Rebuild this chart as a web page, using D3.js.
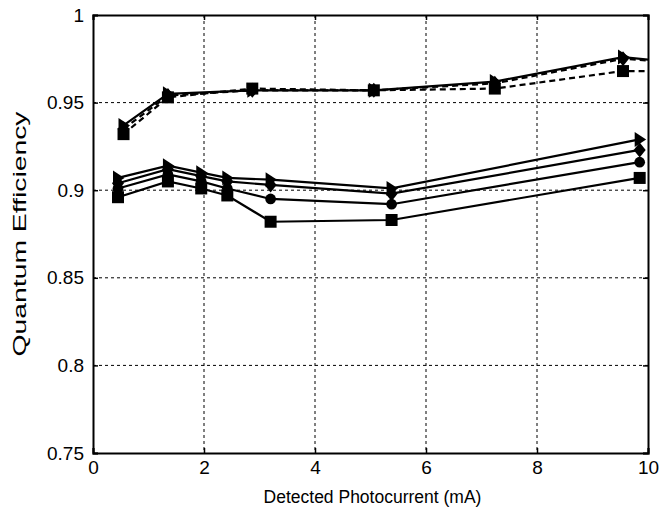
<!DOCTYPE html>
<html><head><meta charset="utf-8">
<script src="https://cdn.jsdelivr.net/npm/d3@7"></script>
<style>body{margin:0;background:#fff}svg{display:block}text{font-family:"Liberation Sans",Arial,sans-serif}</style>
</head><body>
<svg id="c" width="663" height="516"></svg>
<script>
const upperX = [0.55, 1.35, 2.87, 5.06, 7.24, 9.55, 10.5];
const upperTri = [0.937, 0.955, 0.957, 0.957, 0.962, 0.976, 0.973];
const upperDia = [0.935, 0.954, 0.957, 0.957, 0.961, 0.975, 0.973];
const upperSq  = [0.932, 0.953, 0.958, 0.957, 0.958, 0.968, 0.968];
const lowerX = [0.45, 1.35, 1.95, 2.42, 3.2, 5.38, 9.85];
const lowerTri = [0.907, 0.914, 0.910, 0.907, 0.906, 0.901, 0.929];
const lowerDia = [0.904, 0.912, 0.908, 0.905, 0.903, 0.898, 0.923];
const lowerCir = [0.901, 0.909, 0.905, 0.901, 0.895, 0.892, 0.916];
const lowerSq  = [0.896, 0.905, 0.901, 0.897, 0.882, 0.883, 0.907];
const xTicks = [0, 2, 4, 6, 8, 10];
const yTicks = [0.75, 0.8, 0.85, 0.9, 0.95, 1];
const xTitle = "Detected Photocurrent (mA)";
const yTitle = "Quantum Efficiency";

const L = 93, R = 648, T = 15, B = 453;
const x = d3.scaleLinear().domain([0, 10]).range([L, R]);
const y = d3.scaleLinear().domain([0.75, 1]).range([B, T]);
const svg = d3.select("#c");

svg.append("clipPath").attr("id", "clip").append("rect")
  .attr("x", L).attr("y", T).attr("width", R - L).attr("height", B - T);

// grid
const g = svg.append("g");
g.selectAll(".gx").data(xTicks.slice(1, -1)).enter().append("line")
  .attr("x1", d => x(d)).attr("x2", d => x(d)).attr("y1", T).attr("y2", B)
  .attr("stroke", "#000").attr("stroke-width", 1).attr("stroke-dasharray", "3,3");
g.selectAll(".gy").data(yTicks.slice(1, -1)).enter().append("line")
  .attr("y1", d => y(d)).attr("y2", d => y(d)).attr("x1", L).attr("x2", R)
  .attr("stroke", "#000").attr("stroke-width", 1).attr("stroke-dasharray", "3,3");

// axes
const fmt = d => d3.format("")(d);
const ax = svg.append("g").attr("transform", `translate(0,${B})`)
  .call(d3.axisBottom(x).tickValues(xTicks).tickSize(-5).tickPadding(8).tickFormat(fmt));
const ay = svg.append("g").attr("transform", `translate(${L},0)`)
  .call(d3.axisLeft(y).tickValues(yTicks).tickSize(-5).tickPadding(9).tickFormat(fmt));
const ar = svg.append("g").attr("transform", `translate(${R},0)`)
  .call(d3.axisRight(y).tickValues(yTicks).tickSize(-5).tickFormat(""));
const at = svg.append("g").attr("transform", `translate(0,${T})`)
  .call(d3.axisTop(x).tickValues(xTicks).tickSize(-5).tickFormat(""));
[ax, ay, ar, at].forEach(a => {
  a.select(".domain").attr("stroke", "#000").attr("stroke-width", 2);
  a.selectAll(".tick line").attr("stroke", "#000").attr("stroke-width", 1.5);
  a.selectAll("text").attr("font-size", 19).attr("fill", "#000")
    .attr("font-family", "'Liberation Sans',Arial,sans-serif");
});

svg.append("text").attr("x", (L + R) / 2 + 2).attr("y", 503).attr("text-anchor", "middle")
  .attr("font-size", 17.5).text(xTitle);
svg.append("text").attr("transform", `translate(26,${(T + B) / 2}) rotate(-90)`)
  .attr("text-anchor", "middle").attr("font-size", 18)
  .attr("textLength", 245).attr("lengthAdjust", "spacingAndGlyphs").text(yTitle);

const series = [
  {xs: upperX, ys: upperSq, dash: "6,4", m: "square"},
  {xs: upperX, ys: upperDia, dash: "6,4", m: "diamond"},
  {xs: upperX, ys: upperTri, dash: null, m: "tri"},
  {xs: lowerX, ys: lowerSq, dash: null, m: "square"},
  {xs: lowerX, ys: lowerCir, dash: null, m: "circle"},
  {xs: lowerX, ys: lowerDia, dash: null, m: "diamond"},
  {xs: lowerX, ys: lowerTri, dash: null, m: "tri"}
];
const line = d3.line().x(d => x(d[0])).y(d => y(d[1]));
const plot = svg.append("g").attr("clip-path", "url(#clip)");
const symPath = {
  square: "M-6,-6L6,-6L6,6L-6,6Z",
  circle: d3.symbol(d3.symbolCircle, 90)(),
  diamond: "M0,-7.5L6,0L0,7.5L-6,0Z",
  tri: "M-5,-7.5L6.5,0L-5,7.5Z"
};
series.forEach(s => {
  const pts = s.xs.map((v, i) => [v, s.ys[i]]);
  plot.append("path").attr("d", line(pts)).attr("fill", "none")
    .attr("stroke", "#000").attr("stroke-width", 2.2)
    .attr("stroke-dasharray", s.dash);
  plot.selectAll(null).data(pts.filter(p => p[0] <= 10)).enter().append("path")
    .attr("d", symPath[s.m])
    .attr("transform", p => `translate(${x(p[0])},${y(p[1])})`)
    .attr("fill", "#000");
});
</script>
</body></html>
